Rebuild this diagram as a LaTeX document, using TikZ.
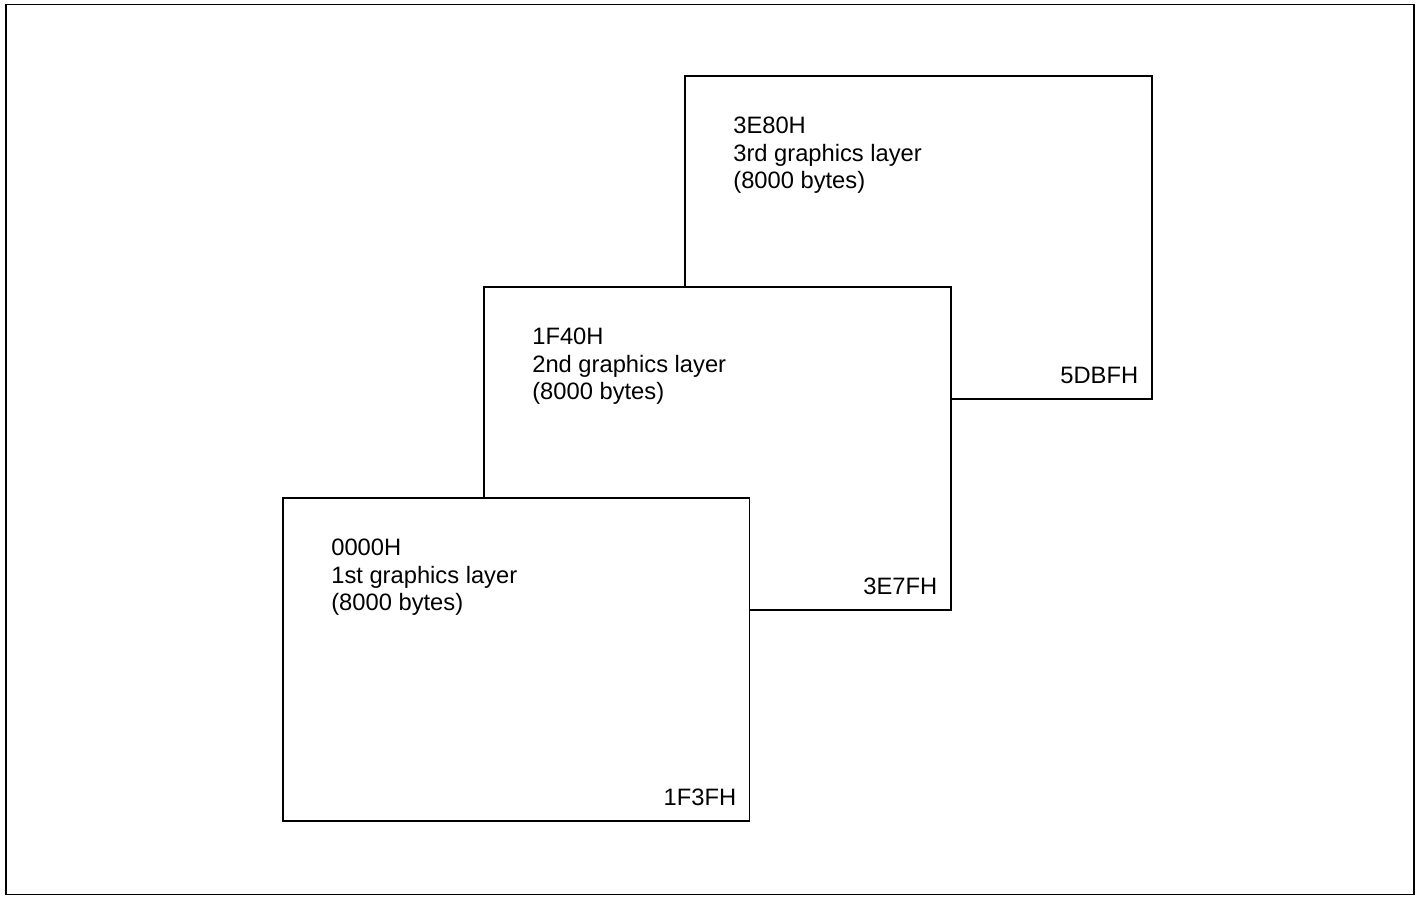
\documentclass[tikz,border=0pt]{standalone}
\usepackage{fontspec}
\setmainfont{Liberation Sans}
\usetikzlibrary{positioning}

\begin{document}
\begin{tikzpicture}[
    x=0.02cm, y=-0.02cm,
    layer/.style={rectangle,draw,fill=white,line width=0.9pt,minimum width=9.34cm,
                  minimum height=6.46cm,anchor=north west,inner sep=0pt},
    desc/.style={anchor=north west,align=left,inner sep=0pt,
                 font=\fontsize{13.5}{15.6}\selectfont},
    addr/.style={anchor=base east,inner sep=0pt,font=\fontsize{13.5}{15.6}\selectfont}
  ]
    \useasboundingbox (0,0) rectangle (1419,896);
    \draw[line width=1.1pt] (6,4.5) rectangle (1414,894.5);
    % back to front
    \node[layer] (L3) at (684,75) {};
    \node[desc] (L3t) at ([xshift=0.98cm,yshift=-0.84cm]L3.north west)
      {3E80H\\3rd graphics layer\\(8000 bytes)};
    \node[addr] (L3e) at ([xshift=-0.28cm,yshift=0.32cm]L3.south east) {5DBFH};
    \node[layer] (L2) at (483,286) {};
    \node[desc] (L2t) at ([xshift=0.98cm,yshift=-0.84cm]L2.north west)
      {1F40H\\2nd graphics layer\\(8000 bytes)};
    \node[addr] (L2e) at ([xshift=-0.28cm,yshift=0.32cm]L2.south east) {3E7FH};
    \node[layer] (L1) at (282,497) {};
    \node[desc] (L1t) at ([xshift=0.98cm,yshift=-0.84cm]L1.north west)
      {0000H\\1st graphics layer\\(8000 bytes)};
    \node[addr] (L1e) at ([xshift=-0.28cm,yshift=0.32cm]L1.south east) {1F3FH};
  \end{tikzpicture}
\end{document}
